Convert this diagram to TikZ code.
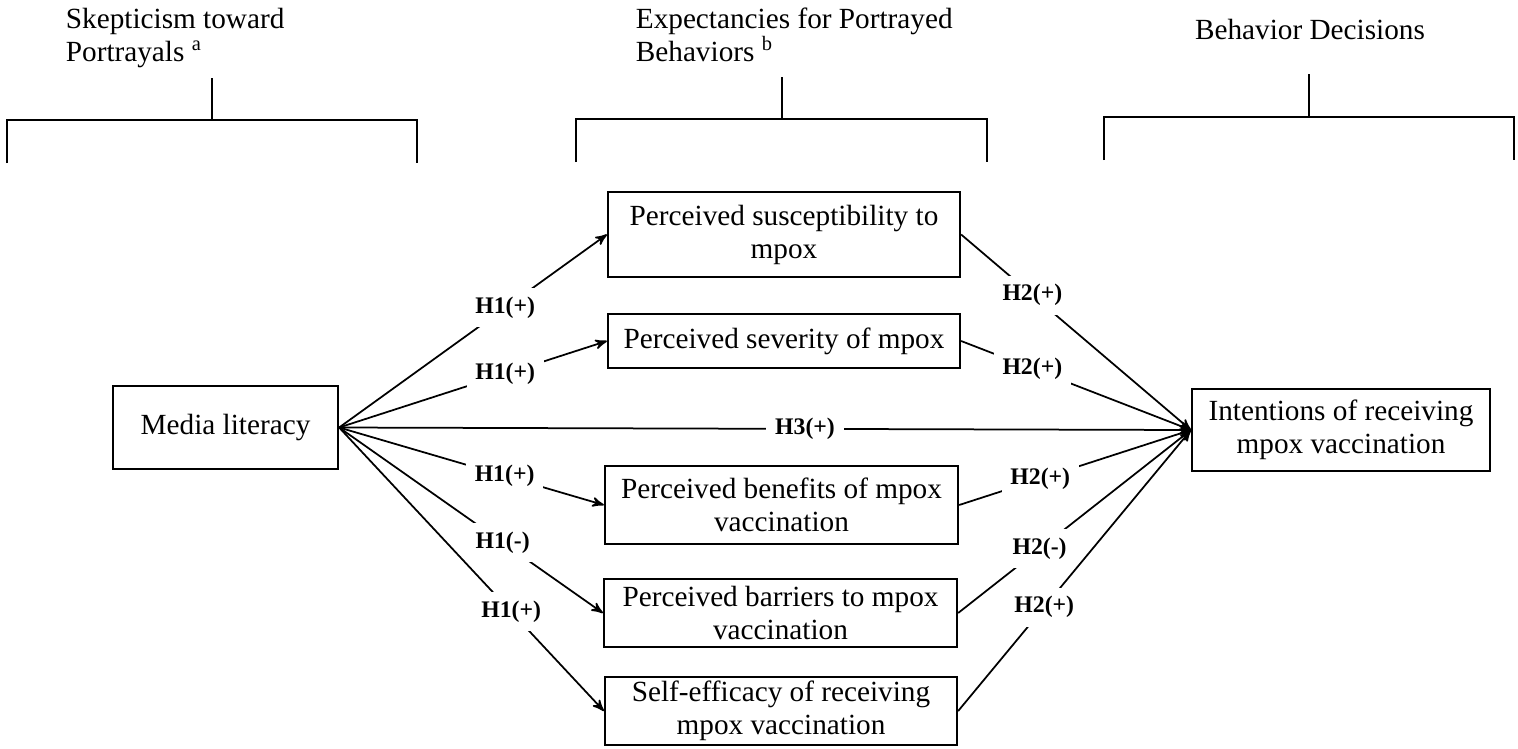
\documentclass[tikz,border=0pt]{standalone}
\usepackage{fontspec}
\setmainfont{Liberation Serif}
\usetikzlibrary{arrows,positioning}

\begin{document}
\begin{tikzpicture}
[x=0.4pt,y=-0.4pt,->,>=stealth',line width=0.7pt,font=\fontsize{11.7}{13.2}\selectfont]\tikzstyle{box}
=[draw,-,line width=0.9pt,align=center,inner sep=0pt]
\tikzstyle{hyp}=[fill=white,inner sep=3.5pt,font=\fontsize{9.5}{11}\selectfont\bfseries]
\tikzstyle{bracket}=[-,line width=0.8pt]
\useasboundingbox (0,0) rectangle (1518,748);

% column headers
\node[anchor=north west,align=left,inner sep=0pt] (skep) at (65,7) {Skepticism toward\\Portrayals \textsuperscript{a}};
\node[anchor=north west,align=left,inner sep=0pt] (expect) at (635,7) {Expectancies for Portrayed\\Behaviors \textsuperscript{b}};
\node[anchor=base,inner sep=0pt] (decide) at (1310,39) {Behavior Decisions};

\draw[bracket] (212,78) -- (212,120) (7,163) -- (7,120) -- (417,120) -- (417,163);
\draw[bracket] (782,77) -- (782,119) (576,162) -- (576,119) -- (987,119) -- (987,162);
\draw[bracket] (1309,74) -- (1309,117) (1104,160) -- (1104,117) -- (1514,117) -- (1514,160);

% variables
\node[box,minimum width=90pt,minimum height=33.2pt] (media) at (225.5,427.5) {Media literacy};
\node[box,minimum width=140.8pt,minimum height=34pt] (suscept) at (784,234.5) {Perceived susceptibility to\\mpox};
\node[box,minimum width=140.8pt,minimum height=21.6pt] (severe) at (784,341) {Perceived severity of mpox};
\node[box,minimum width=141.2pt,minimum height=31.2pt] (benefit) at (781.5,505) {Perceived benefits of mpox\\vaccination};
\node[box,minimum width=141.2pt,minimum height=27.2pt] (barrier) at (780.5,613) {Perceived barriers to mpox\\vaccination};
\node[box,minimum width=140.8pt,minimum height=27.2pt] (selfeff) at (781,711) {Self-efficacy of receiving\\mpox vaccination};
\node[box,minimum width=119.2pt,minimum height=33pt] (intent) at (1341,430) {Intentions of receiving\\mpox vaccination};

\path
(media.east) edge node[hyp,pos=0.62] {H1(+)} (suscept.west)

(media.east) edge node[hyp,pos=0.62] {H1(+)} (severe.west)

(media.east) edge node[hyp,pos=0.547] {H3(+)} (intent.west)

(media.east) edge node[hyp,pos=0.625] {H1(+)} (benefit.west)

(media.east) edge node[hyp,pos=0.62] {H1(-)} (barrier.west)

(media.east) edge node[hyp,pos=0.65] {H1(+)} (selfeff.west)

(suscept.east) edge node[hyp,pos=0.31] {H2(+)} (intent.west)

(severe.east) edge node[hyp,pos=0.31] {H2(+)} (intent.west)

(benefit.east) edge node[hyp,pos=0.35] {H2(+)} (intent.west)

(barrier.east) edge node[hyp,pos=0.35] {H2(-)} (intent.west)

(selfeff.east) edge node[hyp,pos=0.37] {H2(+)} (intent.west)
;\end{tikzpicture}
\end{document}
